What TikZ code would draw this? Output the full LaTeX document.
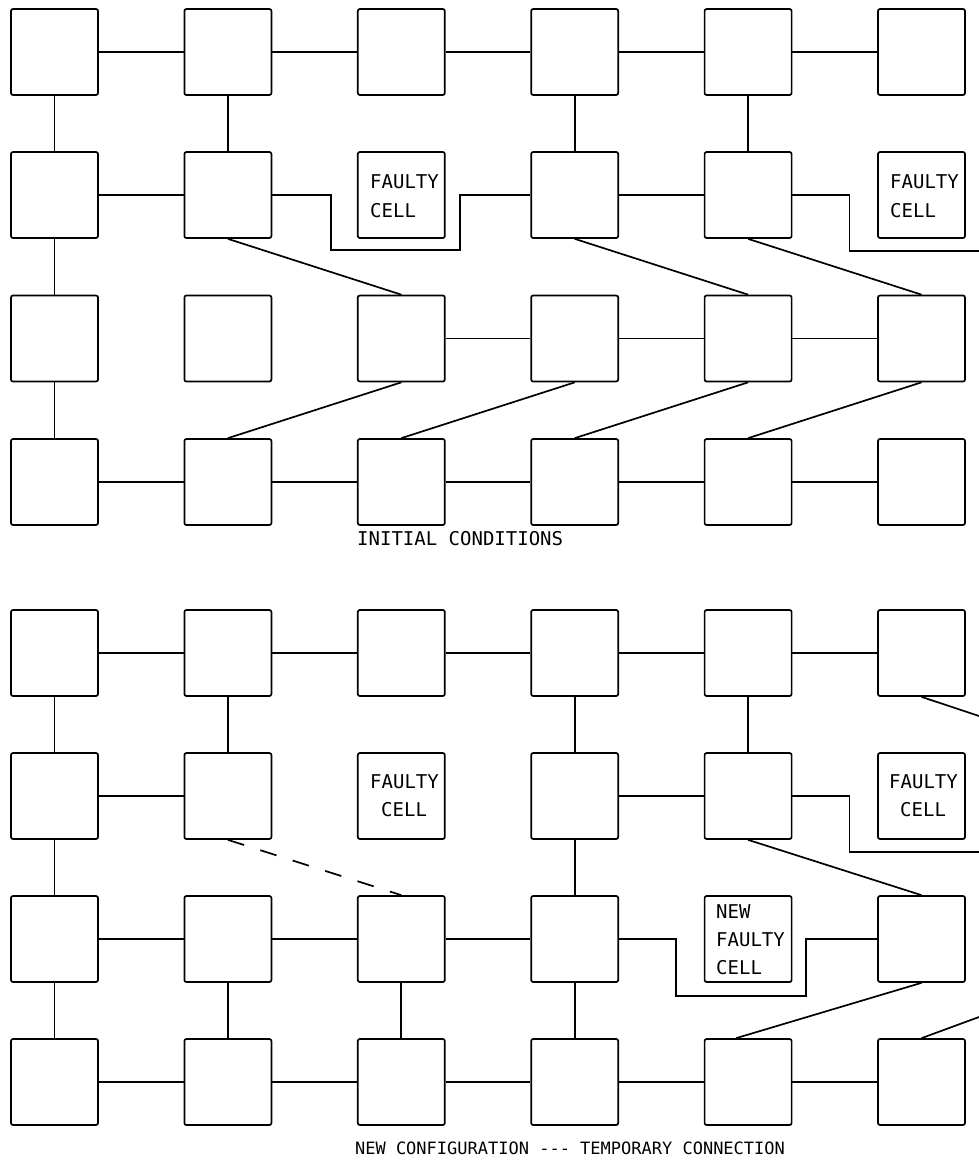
\documentclass[tikz,border=0pt]{standalone}
\usepackage{fontspec}
\newfontfamily\plotfont{DejaVu Sans Mono}
\begin{document}
\begin{tikzpicture}[x=1pt,y=-1pt,
  cell/.style={draw,line width=1.7pt,rounded corners=2pt,minimum width=87pt,minimum height=86pt,inner sep=0pt},
  wire/.style={line width=1.7pt},
  tmpwire/.style={line width=1.7pt,dash pattern=on 17pt off 17pt},
  lbl/.style={inner sep=0pt,anchor=west,font=\plotfont\fontsize{19}{21}\selectfont}]
\useasboundingbox (0,0) rectangle (979,1163);
% column centres and row centres
\foreach \c/\x in {1/54.5,2/227.9,3/401.3,4/574.7,5/748.1,6/921.5}{
  \foreach \r/\y in {1/52,2/195,3/338.5,4/482}{
    \node[cell] (T\r\c) at (\x,\y) {};
  }
  \foreach \r/\y in {1/653,2/796,3/939,4/1082}{
    \node[cell] (B\r\c) at (\x,\y) {};
  }
}
% ---------------- top panel ----------------
\node[lbl] (tf1a) at (370,182) {FAULTY};
\node[lbl] (tf1b) at (370,211) {CELL};
\node[lbl] (tf2a) at (890,182) {FAULTY};
\node[lbl] (tf2b) at (890,211) {CELL};
% row 1
\foreach \a/\b in {1/2,2/3,3/4,4/5,5/6}{\draw[wire] (T1\a.east) -- (T1\b.west);}
\foreach \c in {1,2,4,5}{\draw[wire] (T1\c.south) -- (T2\c.north);}
% row 2
\draw[wire] (T21.east) -- (T22.west);
\draw[wire] (T22.east) -- ++(59,0) -- ++(0,55) -- ++(129,0) -- ++(0,-55) -- (T24.west);
\draw[wire] (T24.east) -- (T25.west);
\coordinate (tedge) at (979,251);
\draw[wire] (T25.east) -- ++(57,0) |- (tedge);
\draw[wire] (T22.south) -- (T33.north);
\draw[wire] (T24.south) -- (T35.north);
\draw[wire] (T25.south) -- (T36.north);
\draw[wire] (T21.south) -- (T31.north);
% row 3
\foreach \a/\b in {3/4,4/5,5/6}{\draw[wire] (T3\a.east) -- (T3\b.west);}
\draw[wire] (T31.south) -- (T41.north);
\foreach \a/\b in {2/3,3/4,4/5,5/6}{\draw[wire] (T4\a.north) -- (T3\b.south);}
% row 4
\foreach \a/\b in {1/2,2/3,3/4,4/5,5/6}{\draw[wire] (T4\a.east) -- (T4\b.west);}
\node[lbl] (initlbl) at (357,539) {INITIAL CONDITIONS};
% ---------------- bottom panel ----------------
\node[lbl] (bf1a) at (370,782) {FAULTY};
\node[lbl] (bf1b) at (381,810) {CELL};
\node[lbl] (bf2a) at (889,782) {FAULTY};
\node[lbl] (bf2b) at (900,810) {CELL};
\node[lbl] (nf1) at (716,912) {NEW};
\node[lbl] (nf2) at (716,940) {FAULTY};
\node[lbl] (nf3) at (716,968) {CELL};
% row 1
\foreach \a/\b in {1/2,2/3,3/4,4/5,5/6}{\draw[wire] (B1\a.east) -- (B1\b.west);}
\foreach \c in {1,2,4,5}{\draw[wire] (B1\c.south) -- (B2\c.north);}
\coordinate (bedge1) at (979,716);
\draw[wire] (B16.south) -- (bedge1);
% row 2
\draw[wire] (B21.east) -- (B22.west);
\draw[wire] (B24.east) -- (B25.west);
\coordinate (bedge2) at (979,852);
\draw[wire] (B25.east) -- ++(57,0) |- (bedge2);
\draw[tmpwire] (B22.south) -- (B33.north);
\draw[wire] (B25.south) -- (B36.north);
\draw[wire] (B21.south) -- (B31.north);
\draw[wire] (B24.south) -- (B34.north);
% row 3
\foreach \a/\b in {1/2,2/3,3/4}{\draw[wire] (B3\a.east) -- (B3\b.west);}
\draw[wire] (B34.east) -- ++(57,0) -- ++(0,57) -- ++(130,0) -- ++(0,-57) -- (B36.west);
\foreach \c in {1,2,3,4}{\draw[wire] (B3\c.south) -- (B4\c.north);}
\draw[wire] (B36.south) -- ([xshift=-12pt]B45.north);
\coordinate (bedge3) at (979,1017);
\draw[wire] (B46.north) -- (bedge3);
% row 4
\foreach \a/\b in {1/2,2/3,3/4,4/5,5/6}{\draw[wire] (B4\a.east) -- (B4\b.west);}
\node[lbl,anchor=center,font=\plotfont\fontsize{17}{20}\selectfont] (newlbl) at (570,1148) {NEW CONFIGURATION  --- TEMPORARY CONNECTION};
\end{tikzpicture}
\end{document}
